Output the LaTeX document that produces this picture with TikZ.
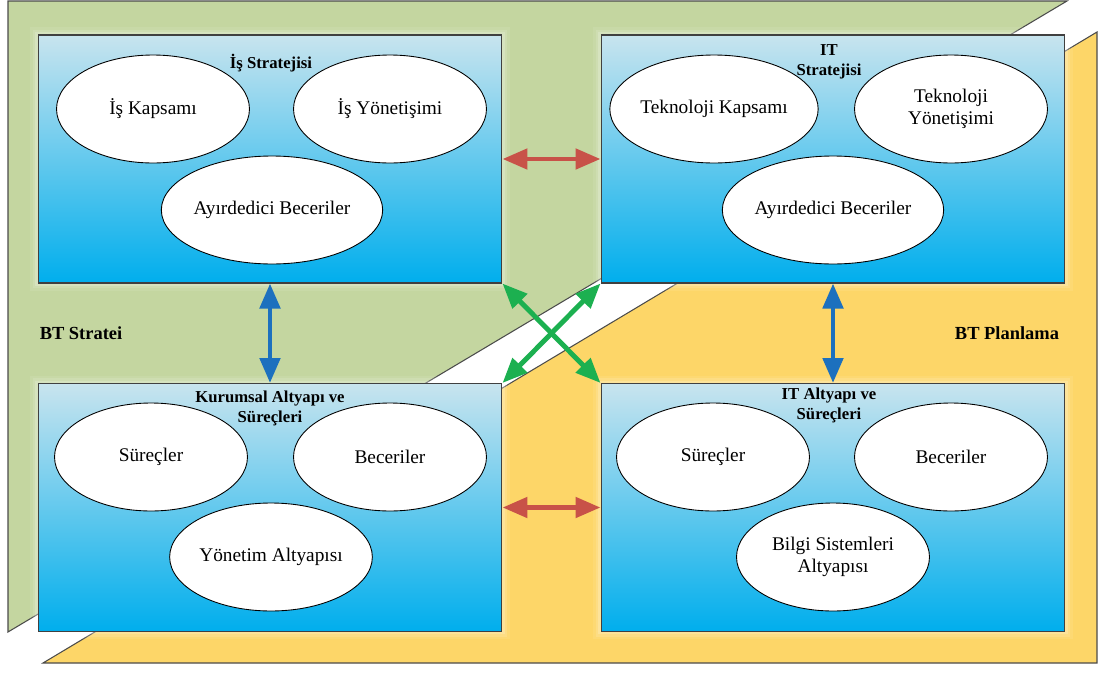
\documentclass[tikz,border=0pt]{standalone}
\usepackage{fontspec}
\setmainfont{Liberation Serif}
\usetikzlibrary{arrows.meta,shapes.geometric}
\definecolor{bgreen}{RGB}{196,214,160}
\definecolor{byellow}{RGB}{253,214,104}
\definecolor{bline}{RGB}{75,75,75}
\definecolor{boxtop}{RGB}{200,228,238}
\definecolor{boxbot}{RGB}{0,174,237}
\definecolor{ared}{RGB}{200,82,72}
\definecolor{ablue}{RGB}{28,112,190}
\definecolor{agreen}{RGB}{28,176,80}

\begin{document}
\begin{tikzpicture}[x=0.02cm, y=-0.02cm,
		katman/.style={rectangle, draw=black!75, line width=0.6pt, top color=boxtop, bottom color=boxbot,
			minimum width=9.28cm, minimum height=4.96cm, inner sep=0pt,
			preaction={draw=white, draw opacity=0.08, line width=9pt},
			preaction={draw=white, draw opacity=0.12, line width=6pt},
			preaction={draw=white, draw opacity=0.18, line width=3pt}},
		oval/.style={ellipse, draw=black, line width=0.5pt, fill=white, minimum width=3.86cm,
			minimum height=2.16cm, inner sep=0pt, align=center, font=\fontsize{11}{12.5}\selectfont},
		baslik/.style={align=center, font=\fontsize{9.5}{11.3}\selectfont\bfseries},
		alan/.style={font=\fontsize{10.5}{12}\selectfont\bfseries},
		iki/.style={line width=2.8pt, {Triangle[length=0.5cm,width=0.4cm]}-{Triangle[length=0.5cm,width=0.4cm]}}]
			%%%%% START %%%%%
			
			\useasboundingbox (0, 0) rectangle (1103, 673);
			
			\draw[line width=0.6pt, draw=bline, fill=bgreen] (8, 1) -- (1067, 1) -- (8, 632) -- cycle;
			\draw[line width=0.6pt, draw=bline, fill=byellow] (1097, 32) -- (1097, 663) -- (43, 663) -- cycle;
			
			\node[alan] (bts) at (81, 333) {BT Stratei};
			\node[alan] (btp) at (1007, 333) {BT Planlama};
			
			\node[katman] (is) at (270, 159) {};
			\node[katman] (it) at (833, 159) {};
			\node[katman] (kurum) at (270, 507.5) {};
			\node[katman] (italt) at (833, 507.5) {};
			
			\node[oval] (iskap) at (153, 109) {İş Kapsamı};
			\node[oval] (isyon) at (390, 109) {İş Yönetişimi};
			\node[oval] (isbec) at (272, 210) {Ayırdedici Beceriler};
			
			\node[oval] (tekkap) at (714, 109) {Teknoloji Kapsamı};
			\node[oval] (tekyon) at (951, 109) {Teknoloji\\Yönetişimi};
			\node[oval] (itbec) at (833, 210) {Ayırdedici Beceriler};
			
			\node[oval] (ksur) at (151, 457) {Süreçler};
			\node[oval] (kbec) at (390, 457) {Beceriler};
			\node[oval] (kyon) at (271, 557) {Yönetim Altyapısı};
			
			\node[oval] (isur) at (713, 457) {Süreçler};
			\node[oval] (ibec) at (951, 457) {Beceriler};
			\node[oval] (ibil) at (833, 557) {Bilgi Sistemleri\\Altyapısı};
			
			\node[baslik] (t1) at (271, 63) {İş Stratejisi};
			\node[baslik] (t2) at (829, 62) {IT\\Stratejisi};
			\node[baslik] (t3) at (270, 408) {Kurumsal Altyapı ve\\Süreçleri};
			\node[baslik] (t4) at (829, 405) {IT Altyapı ve\\Süreçleri};
			
			\draw[iki, ared] (is.east) -- (it.west);
			\draw[iki, ared] (kurum.east) -- (italt.west);
			\draw[iki, ablue] (is.south) -- (kurum.north);
			\draw[iki, ablue] (it.south) -- (italt.north);
			\draw[iki, agreen] (is.south east) -- (italt.north west);
			\draw[iki, agreen] (kurum.north east) -- (it.south west);
			
			%%%%% END %%%%%
\end{tikzpicture}
\end{document}
